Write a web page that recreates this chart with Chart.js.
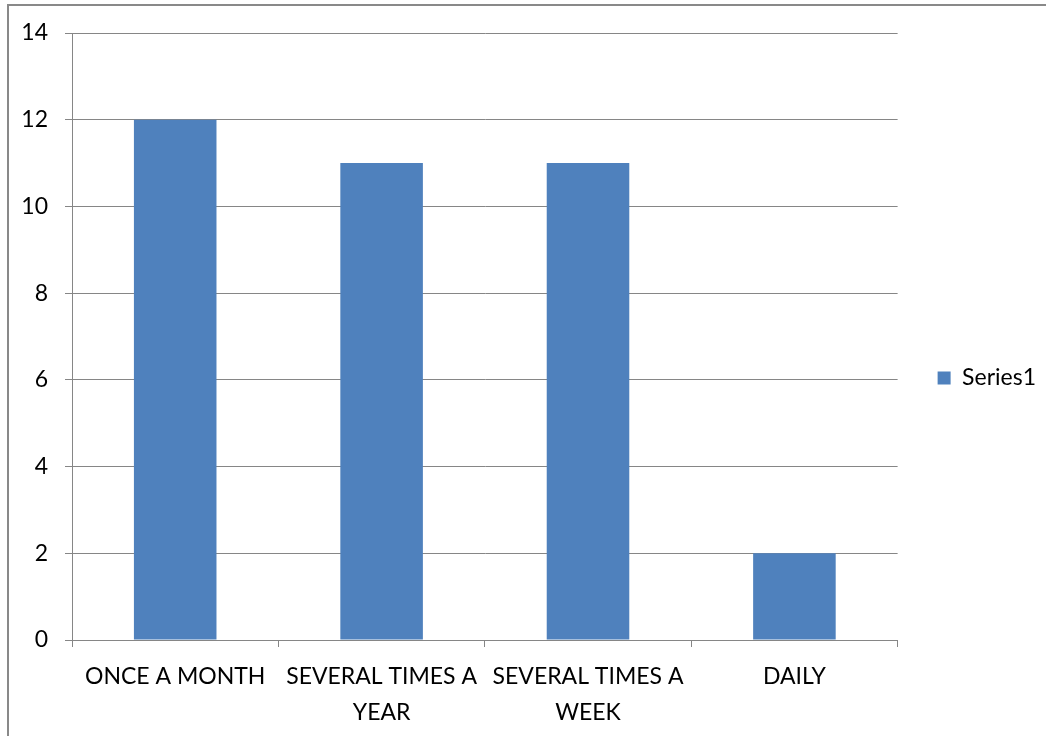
<!DOCTYPE html>
<html lang="en">
<head>
    <meta charset="UTF-8">
    <title>Series1 chart</title>
    <style>
        html, body { margin: 0; padding: 0; background: white; overflow: hidden; }
        #frame { position: absolute; left: 7px; top: 4px; width: 1100px; height: 800px; border: 2px solid #898989; }
        #wrap { position: absolute; left: 0; top: 0; width: 1046px; height: 736px; }
    </style>
</head>
<body>
    <div id="frame"></div>
    <div id="wrap">
        <canvas id="chart" width="1046" height="736"></canvas>
    </div>

    <script src="https://cdnjs.cloudflare.com/ajax/libs/Chart.js/4.4.0/chart.min.js"></script>
    <script>
        // values
        const categories = [
            'ONCE A MONTH',
            ['SEVERAL TIMES A', 'YEAR'],
            ['SEVERAL TIMES A', 'WEEK'],
            'DAILY'
        ];
        const series1 = [12, 11, 11, 2];
        const yTicks = { min: 0, max: 14, step: 2 };

        const gray = '#868686';
        const fontFamily = 'Lato, "Open Sans", sans-serif';

        new Chart(document.getElementById('chart'), {
            type: 'bar',
            data: {
                labels: categories,
                datasets: [{
                    label: 'Series1',
                    data: series1,
                    backgroundColor: '#4F81BD',
                    borderWidth: 0,
                    barPercentage: 0.4,
                    categoryPercentage: 1.0
                }]
            },
            options: {
                responsive: false,
                animation: false,
                layout: { padding: { top: 33, left: 0, right: 0, bottom: 13 } },
                plugins: {
                    tooltip: { enabled: false },
                    legend: {
                        position: 'right',
                        labels: {
                            boxWidth: 13,
                            boxHeight: 13,
                            padding: 40,
                            color: '#000',
                            font: { family: fontFamily, size: 23 }
                        }
                    }
                },
                scales: {
                    x: {
                        // fixed height so the plot bottom lands at the 0 line
                        afterFit: s => { s.height = 83; },
                        grid: {
                            offset: true,
                            drawOnChartArea: false,
                            drawTicks: true,
                            tickLength: 7,
                            color: gray
                        },
                        border: { color: gray, width: 1 },
                        ticks: {
                            color: '#000',
                            padding: 11,
                            maxRotation: 0,
                            autoSkip: false,
                            font: { family: fontFamily, size: 23, lineHeight: 1.58 }
                        }
                    },
                    y: {
                        min: yTicks.min,
                        max: yTicks.max,
                        afterFit: s => { s.width = 72; },
                        grid: { color: gray, lineWidth: 1, tickLength: 7 },
                        border: { color: gray, width: 1 },
                        ticks: {
                            stepSize: yTicks.step,
                            color: '#000',
                            padding: 17,
                            font: { family: fontFamily, size: 23 }
                        }
                    }
                }
            }
        });
    </script>
</body>
</html>
